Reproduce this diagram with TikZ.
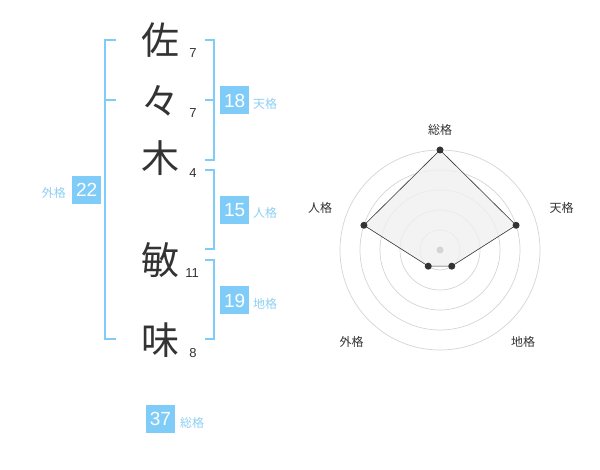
\documentclass[tikz,border=0pt]{standalone}
\usepackage{fontspec}
\setmainfont{Liberation Sans}
\newfontfamily\jpfont{Noto Sans CJK JP}
\usetikzlibrary{arrows}

\definecolor{kakublue}{HTML}{80CCF8}
\definecolor{kakutext}{HTML}{8CCFF2}
\definecolor{moji}{HTML}{333333}
\definecolor{ringgray}{HTML}{D4D4D4}
\definecolor{areagray}{HTML}{F0F0F0}

\tikzset{
  kanji/.style={text=moji,font=\jpfont\fontsize{38}{38}\selectfont,inner sep=0pt},
  kakusu/.style={text=moji,font=\fontsize{13}{13}\selectfont,inner sep=0pt},
  kakubox/.style={fill=kakublue,text=white,minimum width=29pt,minimum height=28pt,
    inner sep=0pt,font=\fontsize{19}{19}\selectfont},
  kakulabel/.style={text=kakutext,font=\jpfont\fontsize{12}{12}\selectfont,inner sep=0pt},
  axislabel/.style={text=moji,font=\jpfont\fontsize{12}{12}\selectfont,inner sep=0pt},
  bracket/.style={draw=kakublue,line width=1.8pt},
  ring/.style={draw=ringgray,line width=0.7pt}
}

\begin{document}
\begin{tikzpicture}[x=1pt,y=-1pt]
       \useasboundingbox (0,0) rectangle (600,470);
       \draw[bracket] (116,40) -- (105,40) -- (105,339) -- (116,339);
       \draw[bracket] (105,100) -- (116,100);
       \draw[bracket] (205,40) -- (214,40) -- (214,160) -- (205,160);
       \draw[bracket] (205,100) -- (214,100);
       \draw[bracket] (205,170) -- (214,170) -- (214,249) -- (205,249);
       \draw[bracket] (205,260) -- (214,260) -- (214,339) -- (205,339);
       \node[kanji] (sa)   at (160, 40) {佐};
       \node[kanji] (noma) at (160,101) {々};
       \node[kanji] (ki)   at (160,158) {木};
       \node[kanji] (bin)  at (160,260) {敏};
       \node[kanji] (mi)   at (160,340) {味};
       \node[kakusu] (sasu)   at (193, 53) {7};
       \node[kakusu] (nomasu) at (193,113) {7};
       \node[kakusu] (kisu)   at (193,173) {4};
       \node[kakusu] (binsu)  at (192,273) {11};
       \node[kakusu] (misu)   at (193,353) {8};
       \node[kakubox] (gaikaku) at ( 86.7,190) {22};
       \node[kakulabel,anchor=east] (gaikakul) at (66,193) {外格};
       \node[kakubox] (tenkaku) at (234.7,100.5) {18};
       \node[kakulabel,anchor=west] (tenkakul) at (253,104) {天格};
       \node[kakubox] (jinkaku) at (234.7,210) {15};
       \node[kakulabel,anchor=west] (jinkakul) at (253,213) {人格};
       \node[kakubox] (chikaku) at (234.7,300.5) {19};
       \node[kakulabel,anchor=west] (chikakul) at (253,304) {地格};
       \node[kakubox] (soukaku) at (160.5,419) {37};
       \node[kakulabel,anchor=west] (soukakul) at (180,423) {総格};
       \coordinate (c) at (440,250);
       \foreach \r in {20,40,60,80,100}
         \draw[ring] (c) circle (\r pt);
       \coordinate (sou)  at ([shift={(90:100pt)}]c);
       \coordinate (ten)  at ([shift={(18:80pt)}]c);
       \coordinate (chi)  at ([shift={(-54:20pt)}]c);
       \coordinate (gai)  at ([shift={(-126:20pt)}]c);
       \coordinate (jin)  at ([shift={(162:80pt)}]c);
       \filldraw[fill=areagray,fill opacity=0.8,draw=moji,line width=0.6pt]
         (sou) -- (ten) -- (chi) -- (gai) -- (jin) -- cycle;
       \fill[ringgray] (c) circle (3.5pt);
       \foreach \p in {sou,ten,chi,gai,jin}
         \fill[moji] (\p) circle (3.5pt);
       \node[axislabel] (soul) at (440,130) {総格};
       \node[axislabel] (tenl) at (561.7,208) {天格};
       \node[axislabel] (jinl) at (320,208) {人格};
       \node[axislabel] (gail) at (351.7,342) {外格};
       \node[axislabel] (chil) at (523,342) {地格};
\end{tikzpicture}
\end{document}
